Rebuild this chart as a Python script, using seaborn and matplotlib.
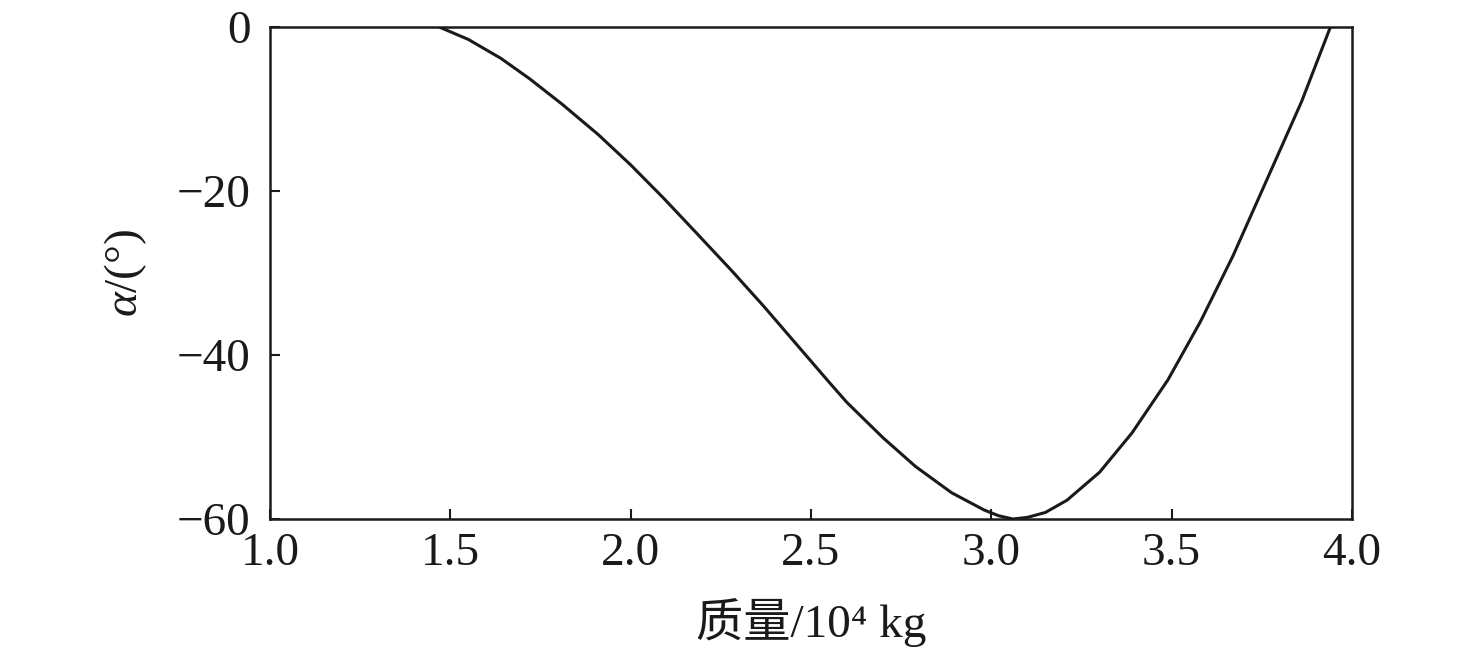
import numpy as np
import pandas as pd
import matplotlib
matplotlib.use('Agg')
import matplotlib.pyplot as plt
import seaborn as sns

# values
mass = [1.47, 1.55, 1.64, 1.72, 1.81, 1.91, 2.00, 2.09, 2.18, 2.28, 2.37, 2.46,
        2.55, 2.60, 2.70, 2.79, 2.89, 2.98, 3.02, 3.06, 3.10, 3.15, 3.21, 3.30,
        3.39, 3.49, 3.58, 3.67, 3.76, 3.86, 3.94]
alpha = [0.0, -1.5, -3.8, -6.3, -9.4, -13.1, -16.8, -20.8, -25.0, -29.7, -34.1, -38.7,
         -43.3, -45.8, -50.1, -53.6, -56.8, -58.9, -59.6, -60.0, -59.8, -59.2, -57.7, -54.3,
         -49.5, -43.0, -35.9, -27.9, -19.0, -9.1, 0.0]
x_ticks = [1.0, 1.5, 2.0, 2.5, 3.0, 3.5, 4.0]
y_ticks = [0, -20, -40, -60]

df = pd.DataFrame({'mass': mass, 'alpha': alpha})

sns.set_theme(style='ticks')
plt.rcParams['font.family'] = ['Liberation Serif', 'Noto Sans CJK SC']
plt.rcParams['mathtext.fontset'] = 'custom'
plt.rcParams['mathtext.rm'] = 'Liberation Serif'
plt.rcParams['mathtext.it'] = 'Liberation Serif:italic'
plt.rcParams['axes.unicode_minus'] = True

fig = plt.figure(figsize=(14.76, 6.62), dpi=100)
ax = fig.add_axes([0.1829, 0.216, 0.916 - 0.1829, 0.959 - 0.216])

sns.lineplot(data=df, x='mass', y='alpha', ax=ax, color='#1a1a1a', linewidth=2.2, sort=False)
ax.lines[0].set_solid_joinstyle('round')

ax.set_xlim(1.0, 4.0)
ax.set_ylim(-60, 0)
ax.set_xticks(x_ticks)
ax.set_xticklabels([f'{v:.1f}' for v in x_ticks])
ax.set_yticks(y_ticks)
ax.set_yticklabels([str(v).replace('-', '\u2212') for v in y_ticks])

for s in ax.spines.values():
    s.set_linewidth(1.8)
    s.set_color('#1a1a1a')
ax.tick_params(axis='both', direction='in', length=7, width=1.5, colors='#1a1a1a',
               labelsize=34, labelcolor='#1a1a1a')
ax.tick_params(axis='x', pad=10)
ax.tick_params(axis='y', pad=14)

ax.set_xlabel('质量/10\u2074 kg', fontsize=34, color='#1a1a1a', labelpad=16)
ax.set_ylabel(r'$\alpha$/(°)', fontsize=34, color='#1a1a1a', labelpad=20)

fig.savefig('out.png', dpi=100)
